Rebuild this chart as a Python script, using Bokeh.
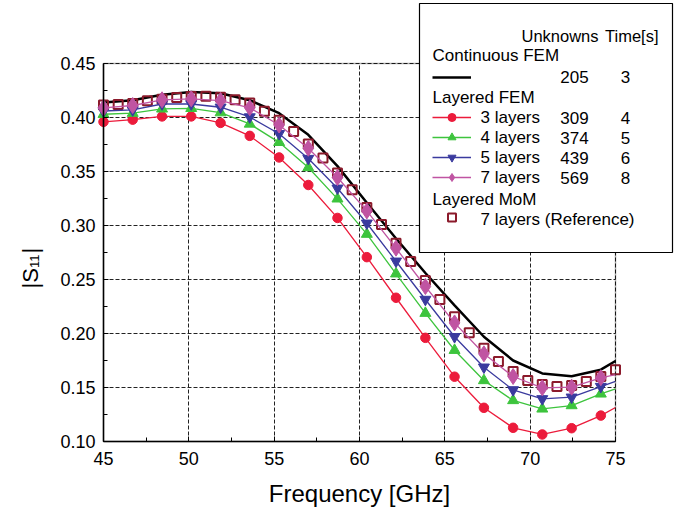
import math
from bokeh.plotting import figure
from bokeh.models import (Range1d, FixedTicker, NumeralTickFormatter, Legend, LegendItem,
                          Label, BoxAnnotation)
from bokeh.embed import file_html
from bokeh.resources import INLINE

# ---------------- data ----------------
freq_marker = [45.0, 46.71, 48.43, 50.14, 51.86, 53.57, 55.29, 57.0, 58.71, 60.43,
               62.14, 63.86, 65.57, 67.29, 69.0, 70.71, 72.43, 74.14]
freq_line = freq_marker + [75.0]

s11_continuous = [0.414, 0.416, 0.421, 0.4237, 0.4225, 0.416, 0.404, 0.384, 0.355, 0.321,
                  0.288, 0.256, 0.226, 0.197, 0.175, 0.163, 0.1605, 0.1665, 0.1745]
s11_3layers = [0.396, 0.398, 0.401, 0.401, 0.395, 0.383, 0.363, 0.3375, 0.307, 0.2707,
               0.2331, 0.196, 0.160, 0.1312, 0.1127, 0.1065, 0.1123, 0.124, 0.1315]
s11_4layers = [0.403, 0.404, 0.408, 0.4085, 0.4045, 0.394, 0.377, 0.3537, 0.3247, 0.292,
               0.2553, 0.2188, 0.1845, 0.1565, 0.138, 0.1302, 0.1333, 0.1441, 0.1488]
s11_5layers = [0.406, 0.407, 0.4125, 0.4125, 0.4095, 0.4005, 0.385, 0.362, 0.3345, 0.3021,
               0.2669, 0.2315, 0.197, 0.1688, 0.1478, 0.1395, 0.141, 0.1509, 0.1556]
s11_7layers = [0.409, 0.4111, 0.4164, 0.4173, 0.4157, 0.409, 0.393, 0.3715, 0.3444, 0.3135,
               0.279, 0.2435, 0.2098, 0.1812, 0.1602, 0.1497, 0.1503, 0.159, 0.162]

freq_mom = [45.0, 45.86, 46.71, 47.57, 48.43, 49.29, 50.14, 51.0, 51.86, 52.71,
            53.57, 54.43, 55.29, 56.14, 57.0, 57.86, 58.71, 59.57, 60.43, 61.29,
            62.14, 63.0, 63.86, 64.71, 65.57, 66.43, 67.29, 68.14, 69.0, 69.86,
            70.71, 71.57, 72.43, 73.29, 74.14, 75.0]
s11_mom = [0.4115, 0.412, 0.413, 0.4155, 0.417, 0.4185, 0.4195, 0.4196, 0.4188, 0.4165,
           0.4134, 0.4058, 0.3975, 0.387, 0.3755, 0.3625, 0.3486, 0.333, 0.3167, 0.301,
           0.2836, 0.2667, 0.2491, 0.2314, 0.2154, 0.2006, 0.1864, 0.1741, 0.1648, 0.1565,
           0.1528, 0.1509, 0.1519, 0.1556, 0.1602, 0.1664]

x_lim = (45, 75)
y_lim = (0.10, 0.45)
x_ticks = [45, 50, 55, 60, 65, 70, 75]
x_minor = [47.5, 52.5, 57.5, 62.5, 67.5, 72.5]
y_ticks = [0.10, 0.15, 0.20, 0.25, 0.30, 0.35, 0.40, 0.45]
y_minor = [0.125, 0.175, 0.225, 0.275, 0.325, 0.375, 0.425]

layer_names = ["3 layers", "4 layers", "5 layers", "7 layers"]
layer_unknowns = ["309", "374", "439", "569"]
layer_times = ["4", "5", "6", "8"]
continuous_unknowns = "205"
continuous_time = "3"
mom_name = "7 layers (Reference)"

# ---------------- layout (pixels) ----------------
W, H = 679, 507
PL, PR, PT, PB = 103, 615, 63, 441       # plot area in canvas pixels
sx = (PR - PL) / (x_lim[1] - x_lim[0])
sy = (PB - PT) / (y_lim[1] - y_lim[0])
x_range = Range1d(x_lim[0] - PL / sx, x_lim[1] + (W - PR) / sx)
y_range = Range1d(y_lim[0] - (H - PB) / sy, y_lim[1] + PT / sy)

FONT = "Liberation Sans"
c_red, c_green, c_blue, c_pink, c_mom = "#EC1B3B", "#3DC43D", "#3A3A9E", "#C054A2", "#8B1A2B"

p = figure(width=W, height=H, output_backend="svg", toolbar_location=None,
           x_range=x_range, y_range=y_range,
           min_border_left=0, min_border_right=0, min_border_top=0, min_border_bottom=0)
p.title.visible = False
p.background_fill_color = "white"
p.border_fill_color = "white"
p.outline_line_color = None

for ax, ticks, minor, lim in ((p.xaxis, x_ticks, x_minor, x_lim), (p.yaxis, y_ticks, y_minor, y_lim)):
    ax.ticker = FixedTicker(ticks=ticks, minor_ticks=minor)
    ax.bounds = lim
    ax.axis_line_color = "black"
    ax.axis_line_width = 1.5
    ax.major_tick_line_color = "black"
    ax.minor_tick_line_color = "black"
    ax.major_tick_in = 5
    ax.major_tick_out = 0
    ax.minor_tick_in = 4
    ax.minor_tick_out = 0
    ax.major_label_text_font = FONT
    ax.major_label_text_font_size = "18px"
    ax.major_label_text_color = "black"
    ax.axis_label = None
p.xaxis.fixed_location = y_lim[0]
p.yaxis.fixed_location = x_lim[0]
p.xaxis.major_label_standoff = 10
p.yaxis.major_label_standoff = 8
p.yaxis.formatter = NumeralTickFormatter(format="0.00")

p.xgrid.ticker = FixedTicker(ticks=x_ticks)
p.ygrid.ticker = FixedTicker(ticks=y_ticks)
p.xgrid.bounds = x_lim
p.ygrid.bounds = y_lim
p.xgrid.cross_bounds = y_lim
p.ygrid.cross_bounds = x_lim
for g in (p.xgrid, p.ygrid):
    g.grid_line_color = "#222222"
    g.grid_line_dash = "4 2"
    g.grid_line_width = 1

# ---------------- glyphs ----------------
r_cont = p.line(freq_line, s11_continuous, line_color="black", line_width=2.5)
r_mom = p.scatter(freq_mom, s11_mom, marker="square", size=9, fill_color=None,
                  line_color=c_mom, line_width=2)

series = [(s11_3layers, c_red, "circle", 9.5),
          (s11_4layers, c_green, "triangle", 11),
          (s11_5layers, c_blue, "inverted_triangle", 11),
          (s11_7layers, c_pink, "diamond", 16)]
layer_renderers = []
for vals, col, mk, sz in series:
    rl = p.line(freq_line, vals, line_color=col, line_width=1.3)
    rs = p.scatter(freq_marker, vals[:len(freq_marker)], marker=mk, size=sz,
                   fill_color=col, line_color=col)
    layer_renderers.append([rl, rs])

r_blank = p.line([], [], line_alpha=0)

# plot frame outline
p.add_layout(BoxAnnotation(left=x_lim[0], right=x_lim[1], bottom=y_lim[0], top=y_lim[1],
                           fill_alpha=0, line_color="black", line_width=1.5))

# ---------------- legend ----------------
p.add_layout(BoxAnnotation(left=419, right=672, top=3, bottom=252,
                           left_units="canvas", right_units="canvas",
                           top_units="canvas", bottom_units="canvas",
                           fill_color="white", fill_alpha=1.0,
                           line_color="black", line_width=1.2, line_alpha=1.0))

items = [LegendItem(label=" ", renderers=[r_cont]),
         LegendItem(label=" ", renderers=[r_blank])]
for rr in layer_renderers:
    items.append(LegendItem(label=" ", renderers=rr))
items.append(LegendItem(label=" ", renderers=[r_blank]))
items.append(LegendItem(label=" ", renderers=[r_mom]))

leg = Legend(items=items, location=(432, H - 227), orientation="vertical",
             padding=0, margin=0, spacing=0, glyph_width=39, glyph_height=20,
             label_standoff=0, label_width=0, label_height=20,
             label_text_font_size="1px", border_line_alpha=0, background_fill_alpha=0)
p.add_layout(leg)


def txt(x, y, t, align="left", size="17px", angle=0.0, baseline="middle"):
    p.add_layout(Label(x=x, y=y, x_units="canvas", y_units="canvas", text=t,
                       text_font=FONT, text_font_size=size, text_color="black",
                       text_align=align, text_baseline=baseline, angle=angle))


txt(598, 35, "Unknowns", align="right", size="16.5px")
txt(658, 35, "Time[s]", align="right", size="16.5px")
txt(432, 55, "Continuous FEM")
txt(574, 76, continuous_unknowns, align="center")
txt(625, 76, continuous_time, align="center")
txt(432, 97, "Layered FEM")
for i, (nm, un, tm) in enumerate(zip(layer_names, layer_unknowns, layer_times)):
    y = 117 + 20 * i
    txt(480, y, nm)
    txt(574, y, un, align="center")
    txt(625, y, tm, align="center")
txt(432, 199, "Layered MoM")
txt(480, 219, mom_name)

# axis titles
txt(359, 493, "Frequency [GHz]", align="center", size="24px")
txt(29.5, 288, "|S", size="22px", angle=math.pi / 2, baseline="alphabetic")
txt(33.5, 267.5, "11", size="13px", angle=math.pi / 2, baseline="alphabetic")
txt(29.5, 253, "|", size="22px", angle=math.pi / 2, baseline="alphabetic")

open("out.html", "w").write(file_html(p, INLINE))
